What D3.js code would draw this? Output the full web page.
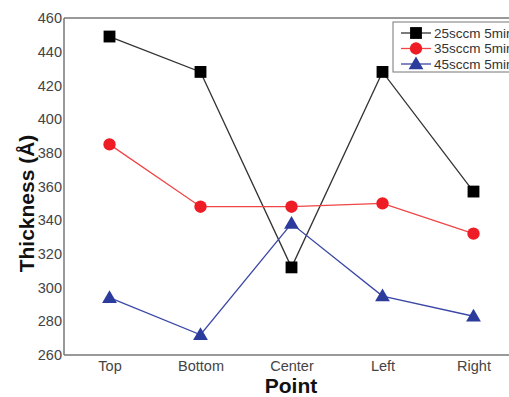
<!DOCTYPE html>
<html>
<head>
<meta charset="utf-8">
<script src="https://cdn.jsdelivr.net/npm/d3@7"></script>
<style>
  body { margin: 0; background: #fff; }
  svg { display: block; font-family: "Liberation Sans", Arial, sans-serif; }
</style>
</head>
<body>
<div id="chart"></div>
<script>
(() => {
    // data
    let points = ['Top', 'Bottom', 'Center', 'Left', 'Right'];
    let seriesNames = ['25sccm 5min', '35sccm 5min', '45sccm 5min'];
    let sccm25 = [449, 428, 312, 428, 357];
    let sccm35 = [385, 348, 348, 350, 332];
    let sccm45 = [294, 272, 338, 295, 283];
    let yTicks = [260, 280, 300, 320, 340, 360, 380, 400, 420, 440, 460];

    let W = 509, H = 397;
    let left = 64, top = 18, bottom = 355, right = 519;

    let svg = d3.select('#chart')
        .append('svg')
        .attr('width', W)
        .attr('height', H);

    let x = d3.scalePoint()
        .domain(points)
        .range([left, right])
        .padding(0.5);

    let y = d3.scaleLinear()
        .domain([260, 460])
        .range([bottom, top]);

    // frame
    svg.append('line')
        .attr('x1', left).attr('x2', right)
        .attr('y1', top).attr('y2', top)
        .attr('stroke', '#777').attr('stroke-width', 1.5);

    let yAxis = svg.append('g')
        .attr('transform', `translate(${left},0)`)
        .call(d3.axisLeft(y).tickValues(yTicks).tickSize(0).tickPadding(2));
    let xAxis = svg.append('g')
        .attr('transform', `translate(0,${bottom})`)
        .call(d3.axisBottom(x).tickSize(0).tickPadding(6));

    [xAxis, yAxis].forEach(a => {
        a.select('.domain').attr('stroke', '#777').attr('stroke-width', 1.5);
        a.selectAll('text')
            .attr('fill', '#444')
            .style('font-size', '14.5px');
    });
    yAxis.select('.domain').attr('d', `M0,${top}V${bottom}`);
    xAxis.select('.domain').attr('d', `M${left},0H${right}`);

    // axis titles
    svg.append('text')
        .attr('transform', `translate(34,${(132 + 275) / 2}) rotate(-90)`)
        .attr('text-anchor', 'middle')
        .style('font-size', '21px')
        .style('font-weight', 'bold')
        .attr('fill', '#111')
        .text('Thickness (Å)');

    svg.append('text')
        .attr('x', 291)
        .attr('y', 393)
        .attr('text-anchor', 'middle')
        .style('font-size', '21px')
        .style('font-weight', 'bold')
        .attr('fill', '#111')
        .text('Point');

    let series = [
        { name: seriesNames[0], values: sccm25, line: '#333', fill: '#000', shape: 'square' },
        { name: seriesNames[1], values: sccm35, line: '#f04545', fill: '#ee1c25', shape: 'circle' },
        { name: seriesNames[2], values: sccm45, line: '#3a47a6', fill: '#2b3c9c', shape: 'triangle' }
    ];

    let symbols = {
        square: d3.symbol().type(d3.symbolSquare).size(140),
        circle: d3.symbol().type(d3.symbolCircle).size(120),
        triangle: d3.symbol().type(d3.symbolTriangle).size(95)
    };

    let line = d3.line()
        .x((d, i) => x(points[i]))
        .y(d => y(d));

    series.forEach(s => {
        svg.append('path')
            .datum(s.values)
            .attr('d', line)
            .attr('fill', 'none')
            .attr('stroke', s.line)
            .attr('stroke-width', 1.3);
        svg.selectAll('.m-' + s.shape)
            .data(s.values)
            .enter()
            .append('path')
            .attr('class', 'm-' + s.shape)
            .attr('transform', (d, i) => `translate(${x(points[i])},${y(d) + (s.shape === 'triangle' ? 1 : 0)})`)
            .attr('d', symbols[s.shape])
            .attr('fill', s.fill);
    });

    // legend
    let legend = svg.append('g').attr('transform', 'translate(393,22)');
    legend.append('rect')
        .attr('width', 130)
        .attr('height', 50)
        .attr('fill', '#fff')
        .attr('stroke', '#777')
        .attr('stroke-width', 1);
    series.forEach((s, i) => {
        let g = legend.append('g').attr('transform', `translate(0,${11 + i * 15.5})`);
        g.append('line')
            .attr('x1', 8).attr('x2', 38)
            .attr('stroke', s.line).attr('stroke-width', 1.3);
        g.append('path')
            .attr('transform', `translate(23,${s.shape === 'triangle' ? 1 : 0})`)
            .attr('d', symbols[s.shape])
            .attr('fill', s.fill);
        g.append('text')
            .attr('x', 41)
            .attr('dy', '0.35em')
            .attr('fill', '#333')
            .style('font-size', '13.5px')
            .text(s.name);
    });
})();
</script>
</body>
</html>
